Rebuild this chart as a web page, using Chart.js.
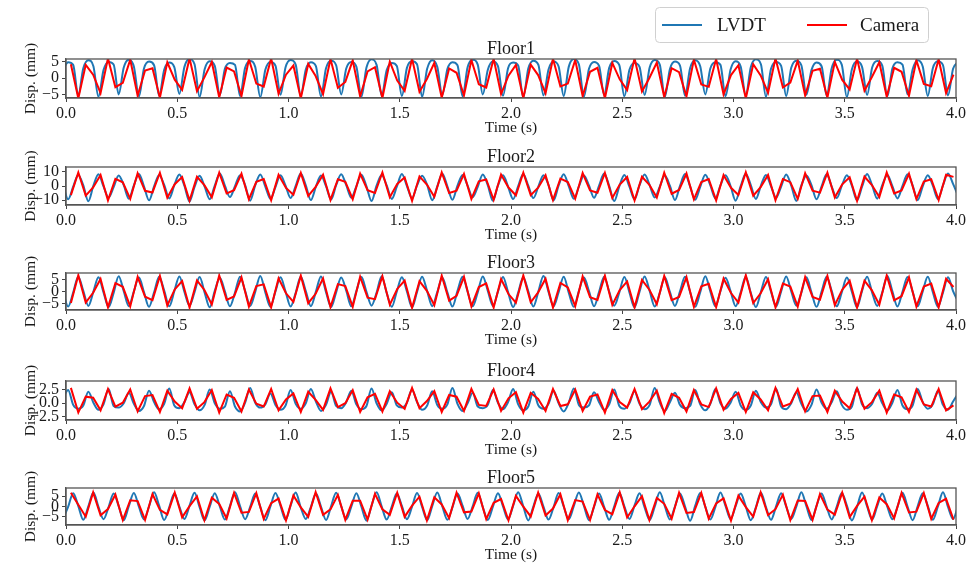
<!DOCTYPE html>
<html>
<head>
<meta charset="utf-8">
<script src="https://cdn.jsdelivr.net/npm/chart.js@4.4.1/dist/chart.umd.min.js"></script>
<style>
  html, body { margin: 0; padding: 0; background: #fff; }
  body { width: 971px; height: 567px; position: relative; overflow: hidden; }
  canvas.panel { position: absolute; left: 0; }
</style>
</head>
<body>
<script>
// sampling grids (s)
const LVDT_T0 = -0.0132, LVDT_DT = 1 / 44;
const CAM_T0 = 0.022, CAM_DT = 1 / 30;

const floorNames = ['Floor1', 'Floor2', 'Floor3', 'Floor4', 'Floor5'];
const legendLabels = ['LVDT', 'Camera'];
const xLabel = 'Time (s)';
const yLabel = 'Disp. (mm)';

// LVDT displacement (mm)
const lvdtF1 = [
  2.6, 4.8, 4.0, -5.3,  3.0, 5.4, 3.6, -5.7,  2.4, 4.9, 4.1, -5.0,  3.2, 5.6, 3.5, -5.6,
  2.9, 5.0, 3.9, -5.4,  2.5, 4.7, 3.3, -4.9,  3.4, 5.8, 4.2, -5.8,  2.7, 5.1, 3.7, -5.2,
  2.8, 4.6, 4.0, -5.5,  3.1, 5.2, 3.4, -5.9,  2.5, 4.9, 3.8, -5.1,  3.3, 5.5, 4.1, -5.4,
  2.6, 4.8, 3.6, -5.6,  3.0, 5.3, 3.9, -5.0,  2.9, 4.9, 3.5, -5.7,  3.2, 5.7, 4.0, -5.3,
  2.4, 4.6, 3.7, -5.5,  3.1, 5.1, 4.2, -5.8,  2.8, 5.4, 3.4, -5.2,  2.7, 4.8, 3.9, -5.6,
  3.3, 5.6, 4.1, -5.0,  2.5, 5.0, 3.6, -5.4,  3.0, 4.7, 3.8, -5.9,  2.9, 5.3, 4.0, -5.3,
  2.6, 5.0, 3.5, -5.5,  3.4, 5.8, 4.2, -5.7,  2.8, 4.9, 3.7, -5.1,  3.1, 5.2, 3.9, -5.6,
  2.5, 4.6, 3.4, -5.2,  3.2, 5.5, 4.1, -5.8,  2.7, 5.0, 3.8, -5.4,  3.0, 5.4, 3.6, -5.0,
  2.9, 4.8, 4.0, -5.6,  2.6, 5.1, 3.5, -5.3,  3.3, 5.7, 4.2, -5.7,  2.8, 4.9, 3.7, -5.5,
  3.1, 5.3, 3.9, -5.1,  2.4, 4.7, 3.6, -5.4,  3.0, 5.6, 4.0, -5.8,  2.7, 5.0, 3.4, -5.2,
  3.2, 5.2, 3.8, -5.6,  2.9, 4.8, 4.1, -5.0,  2.6, 5.4, 3.5, -5.5,  3.0, 5.1, 3.9, -5.3,
  2.8, 4.9
];
const lvdtF2 = [
  1.0, -9.5, -0.5, 7.8,  0.4, -10.8, 0.2, 8.3,  -0.3, -8.2, -0.8, 7.5,  0.6, -9.0, 0.4, 8.6,
  -0.2, -10.2, -0.3, 7.9,  0.8, -8.8, 0.6, 8.1,  0.1, -11.0, -0.6, 7.2,  -0.5, -9.4, 0.3, 8.8,
  0.3, -7.9, -0.1, 7.7,  0.7, -10.4, 0.5, 8.2,  -0.4, -9.1, -0.7, 7.6,  0.2, -8.5, 0.1, 8.9,
  0.5, -10.0, -0.4, 7.4,  -0.1, -9.6, 0.6, 8.4,  0.6, -8.3, -0.2, 8.0,  -0.3, -10.6, 0.3, 7.8,
  0.4, -9.2, -0.5, 8.5,  0.0, -8.7, 0.4, 7.3,  0.8, -10.1, -0.3, 8.7,  -0.2, -9.8, 0.2, 7.9,
  0.3, -8.0, -0.6, 8.2,  0.5, -10.5, 0.5, 7.6,  -0.4, -9.3, 0.0, 8.6,  0.2, -8.6, -0.3, 7.7,
  0.7, -10.3, 0.4, 8.3,  -0.1, -9.0, -0.5, 7.5,  0.4, -8.4, 0.3, 8.8,  0.1, -10.7, -0.2, 7.8,
  -0.5, -9.5, 0.6, 8.1,  0.6, -8.1, -0.4, 7.4,  0.2, -10.0, 0.1, 8.5,  -0.3, -9.7, -0.6, 8.0,
  0.5, -8.9, 0.5, 7.6,  0.0, -10.4, -0.1, 8.7,  0.7, -9.2, 0.3, 7.9,  -0.2, -8.3, -0.4, 8.2,
  0.3, -10.6, 0.4, 7.5,  0.6, -9.4, -0.3, 8.4,  -0.4, -8.6, 0.2, 7.7,  0.1, -10.2, -0.5, 8.6,
  0.4, -9.0, 0.6, 7.8,  -0.1, -8.8, 0.0, 8.3,  0.5, -10.1, -0.2, 7.6,  0.2, -9.3, 0.4, 8.9,
  1.5, -7.0
];
const lvdtF3 = [
  0.2, -6.1, -0.3, 6.3,  0.4, -5.8, 0.1, 6.0,  -0.2, -6.3, -0.4, 6.5,  0.3, -5.9, 0.2, 5.9,
  -0.1, -6.2, -0.2, 6.2,  0.5, -6.0, 0.3, 6.4,  0.0, -5.7, -0.1, 6.1,  -0.3, -6.4, 0.4, 5.8,
  0.2, -6.0, -0.3, 6.3,  0.4, -5.8, 0.0, 6.6,  -0.2, -6.2, 0.2, 6.0,  0.1, -6.1, -0.4, 6.2,
  0.3, -5.9, 0.1, 6.4,  -0.1, -6.3, -0.2, 5.9,  0.5, -6.0, 0.3, 6.1,  0.0, -5.7, -0.3, 6.5,
  -0.4, -6.2, 0.2, 6.0,  0.2, -6.4, 0.0, 6.3,  0.3, -5.9, -0.1, 5.8,  -0.2, -6.1, 0.4, 6.2,
  0.1, -6.0, -0.2, 6.4,  0.4, -5.8, 0.1, 6.1,  -0.1, -6.3, -0.3, 6.0,  0.2, -6.1, 0.2, 6.6,
  0.0, -5.9, -0.1, 6.2,  -0.3, -6.2, 0.3, 5.9,  0.3, -6.0, 0.0, 6.3,  0.1, -5.7, -0.2, 6.1,
  -0.2, -6.4, 0.1, 6.4,  0.4, -6.1, -0.4, 6.0,  0.0, -5.8, 0.2, 6.2,  -0.1, -6.2, -0.1, 6.5,
  0.2, -6.0, 0.3, 5.8,  0.3, -5.9, -0.2, 6.3,  -0.4, -6.3, 0.0, 6.1,  0.1, -6.1, 0.2, 6.4,
  0.2, -5.7, -0.3, 6.0,  -0.2, -6.2, 0.1, 6.2,  0.4, -6.0, -0.1, 5.9,  0.0, -6.4, 0.4, 6.3,
  -0.3, -5.8, -0.2, 6.6,  0.2, -6.1, 0.0, 6.1,  0.1, -6.0, 0.2, 6.2,  -0.1, -6.2, -0.3, 6.0,
  0.3, -4.0
];
const lvdtF4 = [
  0.9, 2.4, -0.3, -1.0,  -0.4, 2.1, 0.1, -1.2,  -0.2, 2.6, -0.5, -0.8,  0.0, 1.9, -0.1, -1.4,
  -0.5, 2.3, 0.2, -1.1,  -0.1, 2.7, -0.4, -0.9,  0.2, 2.0, -0.2, -1.3,  -0.3, 2.5, 0.0, -1.0,
  -0.6, 2.2, -0.6, -1.5,  0.1, 2.8, 0.1, -0.8,  -0.2, 1.8, -0.3, -1.2,  -0.4, 2.4, -0.1, -1.0,
  0.0, 2.6, 0.3, -1.4,  -0.3, 2.1, -0.5, -0.9,  0.2, 2.3, -0.2, -1.1,  -0.5, 2.7, 0.0, -1.3,
  -0.1, 2.0, -0.4, -0.8,  0.1, 2.5, 0.2, -1.2,  -0.4, 2.2, -0.3, -1.0,  -0.2, 2.8, -0.1, -1.4,
  0.0, 1.9, -0.6, -0.9,  -0.3, 2.4, 0.1, -1.1,  0.2, 2.6, -0.2, -1.3,  -0.6, 2.1, -0.4, -1.0,
  -0.1, 2.3, 0.0, -1.5,  0.1, 2.7, -0.3, -0.8,  -0.4, 2.0, 0.2, -1.2,  -0.2, 2.5, -0.5, -1.0,
  0.0, 2.2, -0.1, -1.1,  -0.3, 2.8, 0.1, -1.4,  0.2, 1.9, -0.3, -0.9,  -0.5, 2.4, -0.2, -1.3,
  -0.1, 2.6, 0.0, -1.0,  0.1, 2.1, -0.4, -1.2,  -0.4, 2.3, 0.2, -0.8,  -0.2, 2.7, -0.6, -1.1,
  0.0, 2.0, -0.1, -1.5,  -0.3, 2.5, 0.1, -1.0,  0.2, 2.2, -0.3, -1.2,  -0.6, 2.8, -0.2, -0.9,
  -0.1, 1.9, 0.0, -1.3,  0.1, 2.4, -0.4, -1.1,  -0.4, 2.6, 0.2, -1.0,  -0.2, 2.3, -0.3, -1.2,
  0.3, 1.8
];
const lvdtF5 = [
  -5.8, -0.2, 6.4, 0.3,  -6.4, 0.1, 6.7, -0.2,  -6.1, -0.3, 6.3, 0.2,  -6.6, 0.2, 6.5, -0.1,
  -6.2, 0.0, 6.8, 0.4,  -6.5, -0.4, 6.2, 0.0,  -6.0, 0.3, 6.6, -0.3,  -6.7, -0.1, 6.4, 0.1,
  -6.3, 0.2, 6.9, 0.2,  -6.1, -0.2, 6.3, -0.2,  -6.6, 0.0, 6.5, 0.3,  -6.4, 0.4, 6.7, -0.4,
  -6.0, -0.3, 6.2, 0.0,  -6.5, 0.1, 6.6, 0.2,  -6.2, -0.1, 6.4, -0.1,  -6.8, 0.3, 6.8, 0.1,
  -6.3, 0.0, 6.3, 0.3,  -6.1, -0.2, 6.5, -0.2,  -6.6, 0.2, 6.7, 0.0,  -6.4, -0.4, 6.2, 0.4,
  -6.0, 0.1, 6.6, -0.3,  -6.5, -0.1, 6.4, 0.1,  -6.2, 0.3, 6.9, 0.2,  -6.7, 0.0, 6.3, -0.1,
  -6.3, -0.3, 6.5, 0.0,  -6.1, 0.2, 6.7, 0.3,  -6.6, -0.2, 6.2, -0.2,  -6.4, 0.1, 6.6, 0.1,
  -6.0, 0.4, 6.4, -0.4,  -6.5, -0.1, 6.8, 0.2,  -6.2, 0.0, 6.3, 0.0,  -6.8, 0.3, 6.5, -0.1,
  -6.3, -0.2, 6.7, 0.3,  -6.1, 0.2, 6.2, 0.1,  -6.6, -0.4, 6.6, -0.3,  -6.4, 0.1, 6.4, 0.0,
  -6.0, -0.1, 6.9, 0.2,  -6.5, 0.3, 6.3, -0.2,  -6.2, 0.0, 6.5, 0.4,  -6.7, -0.3, 6.7, 0.1,
  -6.3, 0.2, 6.2, -0.1,  -6.1, -0.2, 6.6, 0.0,  -6.6, 0.1, 6.4, 0.3,  -6.4, 0.0, 6.8, -0.2,
  -6.0, 0.2
];

// Camera displacement (mm), one value per video frame
const camF1 = [
  4.2, -6.2, 4.0, 1.0, -4.6, 6.0, -2.8, -1.5, 5.6, -5.4, 2.3, 3.0, -6.0, 4.8, -0.5, -3.6, 6.0, -4.0, 0.2, 4.9, -5.9, 3.2, 2.0, -5.5, 5.7, -1.7, -2.6, 6.0, -4.8, 1.0,
  3.8, -6.2, 4.3, 0.6, -4.9, 5.8, -3.0, -1.2, 5.4, -5.6, 2.0, 3.3, -6.1, 5.0, -0.8, -3.9, 5.9, -4.2, -0.3, 4.6, -6.0, 2.9, 1.6, -5.3, 5.5, -1.9, -2.9, 5.9, -4.9, 0.7,
  4.0, -6.1, 4.1, 0.9, -4.7, 5.9, -2.6, -1.7, 5.5, -5.5, 1.9, 3.1, -6.2, 4.6, -0.4, -3.7, 6.0, -4.1, 0.0, 4.7, -5.8, 3.0, 1.8, -5.6, 5.6, -2.0, -2.7, 5.8, -5.0, 0.9,
  3.9, -6.2, 4.2, 0.8, -4.5, 6.0, -2.9, -1.4, 5.3, -5.3, 2.2, 2.8, -6.0, 4.9, -0.6, -3.5, 5.9, -3.9, 0.3, 4.8, -5.7, 3.1, 1.9, -5.4, 5.4, -1.8, -2.5, 5.7, -4.6, 1.0
];
const camF2 = [
  -6.5, 9.6, -6.8, -1.0, 7.8, -10.2, 5.0, 2.6, -9.1, 9.0, -3.4, -4.6, 9.4, -8.3, 1.3, 6.3, -10.4, 6.5, 0.6, -8.0, 9.5, -5.3, -3.0, 8.8, -9.4, 3.0, 4.9, -10.1, 7.9, -1.4,
  -6.2, 9.3, -7.0, -0.6, 8.0, -9.9, 4.8, 3.0, -9.4, 8.8, -3.0, -5.0, 9.6, -8.0, 1.5, 6.0, -10.6, 6.8, 1.0, -7.7, 9.7, -5.0, -3.3, 8.6, -9.2, 3.3, 4.6, -9.8, 8.2, -1.1,
  -6.6, 9.5, -6.5, -1.2, 7.6, -10.0, 5.2, 2.8, -9.0, 9.2, -3.2, -4.8, 9.3, -8.5, 1.0, 6.4, -10.3, 6.6, 0.8, -8.2, 9.4, -5.5, -2.8, 8.9, -9.5, 2.8, 5.0, -10.2, 7.8, -1.3,
  -6.4, 9.7, -6.9, -0.8, 7.9, -10.1, 4.9, 2.7, -9.2, 9.1, -3.3, -4.7, 9.5, -8.2, 1.2, 6.2, -10.5, 6.7, 0.7, -7.9, 9.6, -5.2, -3.1, 8.7, -9.3, 3.1, 4.8, -9.9, 8.0, 6.5
];
const camF3 = [
  -4.6, 6.9, -4.4, -0.4, 5.3, -6.4, 3.6, 2.1, -6.0, 6.2, -2.0, -3.4, 6.6, -5.6, 1.0, 4.5, -6.5, 4.7, 0.8, -5.2, 6.8, -3.3, -1.9, 6.0, -6.1, 2.4, 3.1, -6.4, 5.6, -0.6,
  -4.2, 6.7, -4.7, -0.8, 5.6, -6.3, 3.2, 2.4, -6.2, 6.3, -2.4, -3.0, 6.5, -5.3, 1.2, 4.7, -6.6, 4.4, 0.4, -5.5, 6.7, -3.6, -1.6, 6.2, -6.0, 2.0, 3.5, -6.5, 5.3, -0.9,
  -4.5, 6.8, -4.3, -0.2, 5.4, -6.5, 3.7, 1.8, -5.9, 6.4, -2.2, -3.3, 6.7, -5.4, 0.7, 4.3, -6.4, 4.9, 0.9, -5.1, 6.6, -3.4, -2.1, 6.1, -6.2, 2.3, 3.3, -6.3, 5.5, -0.5,
  -4.4, 6.9, -4.6, -0.6, 5.2, -6.4, 3.4, 2.2, -6.1, 6.1, -2.1, -3.2, 6.6, -5.5, 0.9, 4.6, -6.5, 4.6, 0.6, -5.3, 6.8, -3.5, -1.8, 6.0, -6.1, 2.2, 3.4, -6.4, 5.4, 2.0
];
const camF4 = [
  2.8, -1.7, 1.2, 1.0, -1.3, 2.6, -0.6, 0.1, 2.5, -1.5, 1.3, 1.5, -1.6, 2.3, 0.3, -0.9, 2.7, -1.0, 0.2, 2.4, -1.7, 1.6, 1.0, -1.5, 2.5, -0.1, -0.6, 2.6, -1.3, 0.7,
  1.8, -1.6, 2.1, 0.6, -1.2, 2.7, -0.7, 0.0, 2.4, -1.6, 1.1, 1.7, -1.5, 2.2, 0.1, -1.0, 2.8, -0.9, 0.4, 2.2, -1.6, 1.5, 1.2, -1.4, 2.6, -0.3, -0.5, 2.5, -1.4, 0.9,
  2.0, -1.7, 1.9, 0.8, -1.4, 2.6, -0.5, -0.2, 2.5, -1.4, 1.2, 1.6, -1.7, 2.4, 0.2, -0.8, 2.6, -1.1, 0.3, 2.3, -1.8, 1.7, 1.0, -1.5, 2.4, -0.2, -0.7, 2.7, -1.2, 0.8,
  1.9, -1.6, 2.0, 0.7, -1.3, 2.8, -0.6, -0.1, 2.6, -1.5, 1.3, 1.4, -1.6, 2.3, 0.3, -0.9, 2.7, -1.0, 0.2, 2.3, -1.7, 1.6, 1.1, -1.6, 2.5, -0.2, -0.6, 2.6, -1.3, -0.4
];
const camF5 = [
  6.6, 0.8, -4.9, 6.8, -4.2, -1.2, 5.8, -6.5, 3.0, 2.6, -6.4, 6.0, -1.6, -3.8, 6.7, -5.2, 0.2, 4.9, -6.6, 4.2, 1.2, -5.8, 6.5, -3.0, -2.6, 6.4, -6.0, 1.6, 3.8, -6.7,
  5.3, -0.4, -5.0, 6.9, -4.0, -1.4, 5.6, -6.4, 2.8, 2.8, -6.3, 6.1, -1.4, -4.0, 6.6, -5.0, 0.4, 4.7, -6.7, 4.4, 1.0, -5.6, 6.7, -2.8, -2.4, 6.3, -6.1, 1.8, 3.6, -6.6,
  5.1, -0.1, -4.8, 6.7, -4.3, -1.0, 5.9, -6.6, 3.1, 2.4, -6.5, 5.9, -1.7, -3.7, 6.8, -5.3, 0.1, 5.0, -6.5, 4.1, 1.3, -5.9, 6.6, -3.1, -2.7, 6.5, -5.9, 1.5, 3.9, -6.8,
  5.2, -0.3, -4.9, 6.8, -4.1, -1.3, 5.7, -6.5, 2.9, 2.7, -6.4, 6.0, -1.5, -3.9, 6.7, -5.1, 0.3, 4.8, -6.6, 4.3, 1.1, -5.7, 6.5, -2.9, -2.5, 6.4, -6.0, 1.7, 3.7, -6.3
];

const SERIF = "'Liberation Serif', 'Times New Roman', serif";
const INK = '#1a1a1a';
const BLUE = '#1f77b4', RED = '#ff0000';
const PAD_TOP = 59;     // room above each plot box (title, legend)
const AXIS_H = 39;      // room below each plot box (ticks + "Time (s)")

const panels = [
  { name: floorNames[0], lvdt: lvdtF1, cam: camF1, min: -6.1, max: 5.8,  step: 5,   dec: 0, top: 59,    h: 38.5 },
  { name: floorNames[1], lvdt: lvdtF2, cam: camF2, min: -13.5, max: 13.5, step: 10, dec: 0, top: 167,   h: 38 },
  { name: floorNames[2], lvdt: lvdtF3, cam: camF3, min: -7.5, max: 7.8,  step: 5,   dec: 0, top: 273,   h: 37 },
  { name: floorNames[3], lvdt: lvdtF4, cam: camF4, min: -3.06, max: 4.06, step: 2.5, dec: 1, top: 381,  h: 38.5 },
  { name: floorNames[4], lvdt: lvdtF5, cam: camF5, min: -8.9, max: 8.9,  step: 5,   dec: 0, top: 487.5, h: 37 }
];

const fmt = (v, dec) => v.toFixed(dec).replace('-', '\u2212');

// full frame around the plot area + floor title above it
const framePlugin = {
  id: 'frame',
  afterDraw(chart, args, opts) {
    const { ctx, chartArea: a } = chart;
    ctx.save();
    ctx.strokeStyle = '#555';
    ctx.lineWidth = 1.3;
    ctx.strokeRect(a.left, a.top, a.right - a.left, a.bottom - a.top);
    ctx.fillStyle = INK;
    ctx.font = '18px ' + SERIF;
    ctx.textAlign = 'center';
    ctx.textBaseline = 'alphabetic';
    ctx.fillText(opts.text, (a.left + a.right) / 2, a.top - 5.5);
    ctx.restore();
  }
};

// boxed legend at the top right (first panel only)
const legendPlugin = {
  id: 'boxLegend',
  afterDraw(chart) {
    const { ctx } = chart;
    const ds = chart.data.datasets;
    ctx.save();
    ctx.beginPath();
    ctx.roundRect(655.5, 7.5, 273, 35, 4);
    ctx.fillStyle = '#fff';
    ctx.fill();
    ctx.strokeStyle = '#d0d0d0';
    ctx.lineWidth = 1;
    ctx.stroke();
    const items = [[662, 717], [807, 860]];
    ctx.font = '19px ' + SERIF;
    ctx.textBaseline = 'middle';
    ctx.textAlign = 'left';
    items.forEach(([lx, tx], i) => {
      ctx.strokeStyle = ds[i].borderColor;
      ctx.lineWidth = 2;
      ctx.beginPath();
      ctx.moveTo(lx, 25);
      ctx.lineTo(lx + 40, 25);
      ctx.stroke();
      ctx.fillStyle = INK;
      ctx.fillText(ds[i].label, tx, 26);
    });
    ctx.restore();
  }
};

panels.forEach((p, idx) => {
  const cv = document.createElement('canvas');
  cv.className = 'panel';
  cv.width = 971;
  cv.height = Math.round(PAD_TOP + p.h + AXIS_H);
  cv.style.top = (p.top - PAD_TOP) + 'px';
  document.body.appendChild(cv);

  new Chart(cv, {
    type: 'line',
    data: {
      datasets: [
        {
          label: legendLabels[0],
          data: p.lvdt.map((y, i) => ({ x: LVDT_T0 + i * LVDT_DT, y })),
          borderColor: BLUE, borderWidth: 2, pointRadius: 0,
          cubicInterpolationMode: 'monotone', order: 2
        },
        {
          label: legendLabels[1],
          data: p.cam.map((y, i) => ({ x: CAM_T0 + i * CAM_DT, y })),
          borderColor: RED, borderWidth: 2, pointRadius: 0,
          tension: 0, order: 1
        }
      ]
    },
    options: {
      responsive: false,
      animation: false,
      events: [],
      layout: { padding: { top: PAD_TOP, right: 15, left: 0, bottom: 0 } },
      plugins: {
        legend: { display: false },
        tooltip: { enabled: false },
        title: { display: false },
        frame: { text: p.name }
      },
      scales: {
        x: {
          type: 'linear', min: 0, max: 4,
          ticks: {
            stepSize: 0.5, autoSkip: false, maxRotation: 0, padding: 2,
            color: INK, font: { family: SERIF, size: 16 },
            callback: v => v.toFixed(1)
          },
          grid: { drawOnChartArea: false, drawTicks: true, tickLength: 4, color: '#444' },
          border: { display: true, color: '#555', width: 1.3 },
          title: { display: true, text: xLabel, color: INK, font: { family: SERIF, size: 15.5 }, padding: 0 },
          afterFit: s => { s.height = AXIS_H; s.paddingLeft = 0; s.paddingRight = 0; }
        },
        y: {
          min: p.min, max: p.max,
          ticks: {
            stepSize: p.step, autoSkip: false, includeBounds: false, padding: 3,
            color: INK, font: { family: SERIF, size: 16 },
            callback: v => fmt(v, p.dec)
          },
          grid: { drawOnChartArea: false, drawTicks: true, tickLength: 4, color: '#444' },
          border: { display: true, color: '#555', width: 1.3 },
          title: { display: true, text: yLabel, color: INK, font: { family: SERIF, size: 15.5 }, padding: { top: 22, bottom: 0 } },
          afterFit: s => { s.width = 66; s.paddingTop = 0; s.paddingBottom = 0; }
        }
      }
    },
    plugins: idx === 0 ? [framePlugin, legendPlugin] : [framePlugin]
  });
});
</script>
</body>
</html>
